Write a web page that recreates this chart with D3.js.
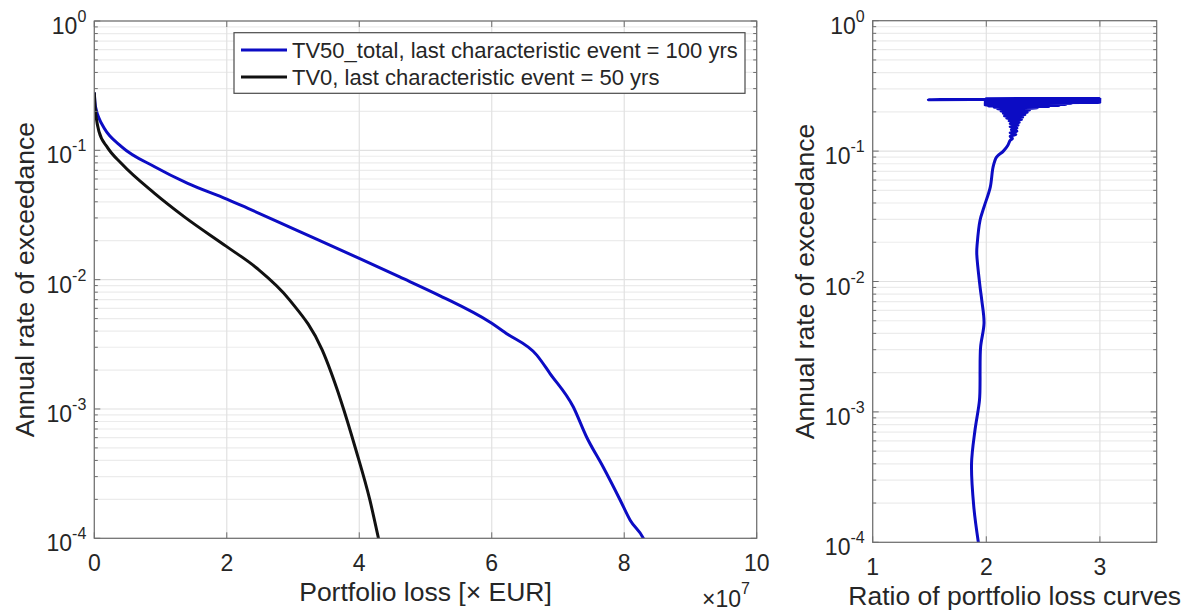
<!DOCTYPE html>
<html>
<head>
<meta charset="utf-8">
<script src="https://cdn.jsdelivr.net/npm/d3@7"></script>
<style>
  html, body { margin: 0; padding: 0; background: #fff; }
  svg { display: block; font-family: "Liberation Sans", Arial, Helvetica, sans-serif; }
</style>
</head>
<body>
<svg id="chart" width="1199" height="614"></svg>
<script>
// ---------- data ----------
const xTicksLeft = [0, 2, 4, 6, 8, 10];
const xTicksRight = [1, 2, 3];
const yDecades = [1e-4, 1e-3, 1e-2, 1e-1, 1];
const yExponents = ["-4", "-3", "-2", "-1", "0"];
const legendLabels = [
  "TV50_total, last characteristic event = 100 yrs",
  "TV0, last characteristic event = 50 yrs"
];

// TV50_total (loss in 1e7 EUR, annual rate of exceedance)
const tv50Loss = [0, 0.01, 0.03, 0.07, 0.15, 0.41, 0.91, 1.41, 2.0, 2.32, 3.0, 4.0, 4.61, 5.22, 5.97, 6.22, 6.68, 6.88, 7.23, 7.43, 7.68, 7.94, 8.09, 8.29, 8.33];
const tv50Rate = [0.28, 0.235, 0.205, 0.178, 0.148, 0.107, 0.0747, 0.0556, 0.042, 0.0356, 0.0248, 0.0146, 0.0105, 0.0075, 0.0047, 0.00384, 0.00261, 0.00188, 0.00104, 0.00061, 0.000357, 0.000197, 0.000138, 0.0001, 0.00009];

// TV0
const tv0Loss = [0, 0.01, 0.03, 0.07, 0.2, 0.41, 0.91, 1.36, 2.0, 2.45, 2.95, 3.44, 3.72, 3.95, 4.16, 4.29, 4.31];
const tv0Rate = [0.28, 0.22, 0.178, 0.14, 0.105, 0.079, 0.0465, 0.0306, 0.018, 0.0123, 0.00695, 0.00286, 0.00117, 0.000482, 0.000198, 0.0001, 0.00009];

// Ratio of portfolio loss curves (ratio, rate), from low rate up
const ratioValue = [1.93, 1.89, 1.87, 1.90, 1.94, 1.945, 1.945, 1.95, 1.98, 1.96, 1.945, 1.916, 1.92, 1.945, 1.98, 2.035, 2.06, 2.09, 2.15, 2.19, 2.21,
  2.23, 2.21, 2.26, 2.21, 2.27, 2.22, 2.27, 2.21, 2.28, 2.21, 2.29, 2.20, 2.31, 2.18, 2.32, 2.16, 2.34, 2.15, 2.36, 2.13, 2.38, 2.10, 2.45, 2.07, 2.55, 2.02, 2.64, 1.99, 2.70, 1.99, 2.75, 1.99, 3.00, 1.99, 3.00, 1.99, 3.00, 1.99, 3.00, 1.99, 3.00, 1.49, 3.00, 2.00, 3.00];
const ratioRate = [0.0001, 0.000187, 0.0004, 0.00072, 0.00123, 0.00175, 0.002, 0.00315, 0.0048, 0.0072, 0.0091, 0.0164, 0.0195, 0.0295, 0.0373, 0.053, 0.0757, 0.090, 0.100, 0.111, 0.121,
  0.125, 0.130, 0.134, 0.138, 0.142, 0.146, 0.150, 0.154, 0.158, 0.162, 0.166, 0.170, 0.174, 0.178, 0.182, 0.186, 0.190, 0.194, 0.198, 0.202, 0.206, 0.210, 0.214, 0.217, 0.220, 0.222, 0.224, 0.226, 0.228, 0.230, 0.232, 0.234, 0.236, 0.238, 0.240, 0.242, 0.244, 0.246, 0.248, 0.250, 0.251, 0.248, 0.252, 0.2525, 0.253];

// ---------- layout ----------
const svg = d3.select("#chart");
const BLUE = "#0c0cc4", BLACK = "#111111";
const AX = "#6e6e6e", GRID = "#e1e1e1", MINGRID = "#ececec", TXT = "#262626";

const L = { x0: 94.3, x1: 756.7, y0: 21, y1: 538.3 };
const R = { x0: 872.7, x1: 1156.7, y0: 20.7, y1: 542.3 };

const xL = d3.scaleLinear().domain([0, 10]).range([L.x0, L.x1]);
const yL = d3.scaleLog().domain([1e-4, 1]).range([L.y1, L.y0]);
const xR = d3.scaleLinear().domain([1, 3.5]).range([R.x0, R.x1]);
const yR = d3.scaleLog().domain([1e-4, 1]).range([R.y1, R.y0]);

const defs = svg.append("defs");
function clip(id, b) {
  defs.append("clipPath").attr("id", id).append("rect")
    .attr("x", b.x0).attr("y", b.y0).attr("width", b.x1 - b.x0).attr("height", b.y1 - b.y0);
}
clip("clipL", L); clip("clipR", R);

function minorValues() {
  const v = [];
  for (let e = -4; e < 0; e++) for (let m = 2; m <= 9; m++) v.push(m * Math.pow(10, e));
  return v;
}

function drawPanel(b, xs, ys, xticks, clipId, lines) {
  const g = svg.append("g");
  g.selectAll(".mg").data(minorValues()).enter().append("line")
    .attr("x1", b.x0).attr("x2", b.x1).attr("y1", d => ys(d)).attr("y2", d => ys(d))
    .attr("stroke", MINGRID).attr("stroke-width", 1.2);
  g.selectAll(".Mg").data(yDecades).enter().append("line")
    .attr("x1", b.x0).attr("x2", b.x1).attr("y1", d => ys(d)).attr("y2", d => ys(d))
    .attr("stroke", GRID).attr("stroke-width", 1.2);
  g.selectAll(".vg").data(xticks).enter().append("line")
    .attr("x1", d => xs(d)).attr("x2", d => xs(d)).attr("y1", b.y0).attr("y2", b.y1)
    .attr("stroke", GRID).attr("stroke-width", 1.2);

  const dg = svg.append("g").attr("clip-path", `url(#${clipId})`);
  lines.forEach(s => {
    dg.append("path").datum(s.pts)
      .attr("d", d3.line().curve(s.curve).x(d => xs(d[0])).y(d => ys(d[1])))
      .attr("fill", "none").attr("stroke", s.color).attr("stroke-width", s.w || 3)
      .attr("stroke-linejoin", "round").attr("stroke-linecap", "butt");
  });

  const tg = svg.append("g");
  xticks.forEach(t => {
    tg.append("line").attr("x1", xs(t)).attr("x2", xs(t)).attr("y1", b.y1).attr("y2", b.y1 - 6).attr("stroke", AX);
    tg.append("line").attr("x1", xs(t)).attr("x2", xs(t)).attr("y1", b.y0).attr("y2", b.y0 + 6).attr("stroke", AX);
  });
  yDecades.forEach(t => {
    tg.append("line").attr("x1", b.x0).attr("x2", b.x0 + 6).attr("y1", ys(t)).attr("y2", ys(t)).attr("stroke", AX);
    tg.append("line").attr("x1", b.x1).attr("x2", b.x1 - 6).attr("y1", ys(t)).attr("y2", ys(t)).attr("stroke", AX);
  });
  minorValues().forEach(t => {
    tg.append("line").attr("x1", b.x0).attr("x2", b.x0 + 3.5).attr("y1", ys(t)).attr("y2", ys(t)).attr("stroke", AX);
    tg.append("line").attr("x1", b.x1).attr("x2", b.x1 - 3.5).attr("y1", ys(t)).attr("y2", ys(t)).attr("stroke", AX);
  });
  tg.append("rect").attr("x", b.x0).attr("y", b.y0).attr("width", b.x1 - b.x0).attr("height", b.y1 - b.y0)
    .attr("fill", "none").attr("stroke", AX).attr("stroke-width", 1.2);

  yDecades.forEach((t, i) => {
    const tx = tg.append("text").attr("x", b.x0 - 8).attr("y", ys(t) + 13)
      .attr("text-anchor", "end").attr("fill", TXT).attr("font-size", 23);
    tx.append("tspan").text("10");
    tx.append("tspan").attr("dy", -12).attr("font-size", 16).text(yExponents[i]);
  });
  xticks.forEach(t => {
    tg.append("text").attr("x", xs(t)).attr("y", b.y1 + 33).attr("text-anchor", "middle")
      .attr("fill", TXT).attr("font-size", 23).text(d3.format("d")(t));
  });
  return tg;
}

const tv50 = tv50Loss.map((v, i) => [v, tv50Rate[i]]);
const tv0 = tv0Loss.map((v, i) => [v, tv0Rate[i]]);
const ratio = ratioValue.map((v, i) => [v, ratioRate[i]]);

drawPanel(L, xL, yL, xTicksLeft, "clipL", [
  { pts: tv50, color: BLUE, curve: d3.curveMonotoneX },
  { pts: tv0, color: BLACK, curve: d3.curveMonotoneX }
]);
drawPanel(R, xR, yR, xTicksRight, "clipR", [
  { pts: ratio, color: BLUE, curve: d3.curveCatmullRom.alpha(0.5) }
]);

const mult = svg.append("text").attr("x", 702).attr("y", 607).attr("fill", TXT).attr("font-size", 23);
mult.append("tspan").text("\u00d710");
mult.append("tspan").attr("dy", -13).attr("font-size", 16).text("7");

svg.append("text").attr("x", (L.x0 + L.x1) / 2).attr("y", 601).attr("text-anchor", "middle")
  .attr("fill", TXT).attr("font-size", 26.5).text("Portfolio loss [\u00d7 EUR]");
svg.append("text").attr("x", (R.x0 + R.x1) / 2).attr("y", 605).attr("text-anchor", "middle")
  .attr("fill", TXT).attr("font-size", 26.5).text("Ratio of portfolio loss curves");
svg.append("text").attr("transform", `translate(34,${(L.y0 + L.y1) / 2}) rotate(-90)`)
  .attr("text-anchor", "middle").attr("fill", TXT).attr("font-size", 26.5).text("Annual rate of exceedance");
svg.append("text").attr("transform", `translate(814,${(R.y0 + R.y1) / 2}) rotate(-90)`)
  .attr("text-anchor", "middle").attr("fill", TXT).attr("font-size", 26.5).text("Annual rate of exceedance");

const lg = svg.append("g");
lg.append("rect").attr("x", 234).attr("y", 32.7).attr("width", 511).attr("height", 60.6)
  .attr("fill", "#fff").attr("stroke", "#4a4a4a").attr("stroke-width", 1.2);
[BLUE, BLACK].forEach((c, i) => {
  const yy = 50 + i * 27;
  lg.append("line").attr("x1", 241).attr("x2", 287).attr("y1", yy).attr("y2", yy)
    .attr("stroke", c).attr("stroke-width", 3);
  lg.append("text").attr("x", 292).attr("y", yy + 8).attr("fill", TXT).attr("font-size", 22).text(legendLabels[i]);
});
</script>
</body>
</html>
